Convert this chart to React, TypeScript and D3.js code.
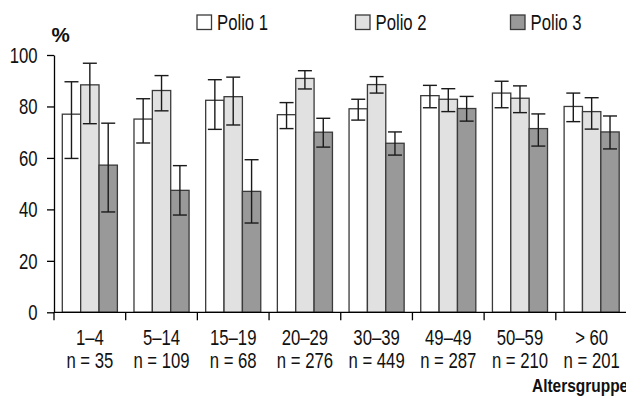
import { useEffect, useRef } from "react";
import * as d3 from "d3";

const ageGroups = ["1–4", "5–14", "15–19", "20–29", "30–39", "49–49", "50–59", "> 60"];
const sampleSizes = ["n = 35", "n = 109", "n = 68", "n = 276", "n = 449", "n = 287", "n = 210", "n = 201"];
const seriesNames = ["Polio 1", "Polio 2", "Polio 3"];
const seriesColors = ["#ffffff", "#e1e1e1", "#999999"];

// mean, lower CI, upper CI per age group
const polio1 = [77.0, 75.1, 82.4, 76.8, 79.1, 84.2, 85.2, 80.0];
const polio1Lo = [59.8, 65.8, 71.1, 71.4, 74.7, 79.5, 79.5, 74.1];
const polio1Hi = [89.6, 83.0, 90.4, 81.5, 82.8, 88.2, 89.8, 85.2];

const polio2 = [88.4, 86.2, 83.8, 90.9, 88.5, 82.8, 83.2, 78.0];
const polio2Lo = [73.3, 78.3, 72.8, 86.8, 85.2, 78.0, 77.6, 71.2];
const polio2Hi = [96.8, 92.0, 91.4, 93.9, 91.6, 86.9, 88.0, 83.4];

const polio3 = [57.2, 47.4, 47.0, 70.0, 65.7, 79.2, 71.4, 70.1];
const polio3Lo = [39.0, 37.8, 34.7, 64.2, 61.1, 74.3, 64.6, 63.5];
const polio3Hi = [73.5, 57.0, 59.3, 75.4, 70.1, 83.9, 77.1, 76.3];

const yTicks = [0, 20, 40, 60, 80, 100];

// no narrow font installed -> squeeze Liberation Sans horizontally
const FONT = "'Liberation Sans', Arial, sans-serif";

export default function App() {
  const ref = useRef<SVGSVGElement>(null);

  useEffect(() => {
    const width = 626;
    const svg = d3.select(ref.current);
    svg.selectAll("*").remove();

    const addText = (
      parent: any, x: number, y: number, txt: string,
      anchor = "start", size = 22, weight = "normal", squeeze = 0.76
    ) =>
      parent.append("text")
        .attr("transform", `translate(${x},${y}) scale(${squeeze},1)`)
        .attr("text-anchor", anchor)
        .style("font-family", FONT)
        .style("font-size", `${size}px`)
        .style("font-weight", weight)
        .attr("fill", "#111")
        .text(txt);

    const values = [polio1, polio2, polio3];
    const lows = [polio1Lo, polio2Lo, polio3Lo];
    const highs = [polio1Hi, polio2Hi, polio3Hi];

    const data = ageGroups.flatMap((g, i) =>
      seriesNames.map((s, j) => ({
        group: g,
        series: s,
        si: j,
        value: values[j][i],
        lo: lows[j][i],
        hi: highs[j][i],
      }))
    );

    // Scales
    const x0 = d3.scaleBand().domain(ageGroups).range([54, 627.5]).paddingInner(0).paddingOuter(0);
    const x1 = d3.scaleBand().domain(seriesNames).range([8.3, x0.bandwidth() - 8.3]).padding(0);
    const y = d3.scaleLinear().domain([0, 100]).range([312.3, 55]);

    // Bars
    svg.append("g")
      .selectAll("rect")
      .data(data)
      .join("rect")
      .attr("x", d => x0(d.group)! + x1(d.series)!)
      .attr("y", d => y(d.value))
      .attr("width", x1.bandwidth())
      .attr("height", d => y(0) - y(d.value))
      .attr("fill", d => seriesColors[d.si])
      .attr("stroke", "#3a3a3a")
      .attr("stroke-width", 1.3);

    // Error bars
    const cap = 7;
    const eb = svg.append("g").attr("stroke", "#1a1a1a").attr("stroke-width", 1.4);
    data.forEach(d => {
      const cx = x0(d.group)! + x1(d.series)! + x1.bandwidth() / 2;
      eb.append("line").attr("x1", cx).attr("x2", cx).attr("y1", y(d.hi)).attr("y2", y(d.lo));
      eb.append("line").attr("x1", cx - cap).attr("x2", cx + cap).attr("y1", y(d.hi)).attr("y2", y(d.hi));
      eb.append("line").attr("x1", cx - cap).attr("x2", cx + cap).attr("y1", y(d.lo)).attr("y2", y(d.lo));
    });

    // Y axis
    const yAxis = svg.append("g")
      .attr("transform", "translate(54,0)")
      .call(d3.axisLeft(y).tickValues(yTicks).tickSize(7).tickSizeOuter(0).tickFormat(() => ""));
    yAxis.select(".domain").attr("stroke", "#000").attr("stroke-width", 1.3);
    yAxis.selectAll(".tick line").attr("stroke", "#000").attr("stroke-width", 1.3);
    const yLabels = svg.append("g");
    yTicks.forEach(t => addText(yLabels, 37.5, y(t) + 8, String(t), "end"));

    // X axis line + boundary ticks
    svg.append("line")
      .attr("x1", 54).attr("x2", width)
      .attr("y1", y(0)).attr("y2", y(0))
      .attr("stroke", "#000").attr("stroke-width", 1.3);
    svg.append("g")
      .selectAll("line")
      .data(ageGroups)
      .join("line")
      .attr("x1", d => x0(d)!).attr("x2", d => x0(d)!)
      .attr("y1", y(0)).attr("y2", y(0) + 8)
      .attr("stroke", "#000").attr("stroke-width", 1.3);

    // Category labels
    const labels = svg.append("g");
    ageGroups.forEach((g, i) => {
      const cx = x0(g)! + x0.bandwidth() / 2;
      addText(labels, cx, 345, g, "middle");
      addText(labels, cx, 368, sampleSizes[i], "middle");
    });

    // Axis titles
    addText(svg, 51.5, 42, "%", "start", 21, "bold", 0.98);
    addText(svg, 532, 391.5, "Altersgruppe", "start", 18, "bold", 0.86);

    // Legend
    const legendX = [197, 355.5, 510.5];
    const legend = svg.append("g");
    seriesNames.forEach((s, i) => {
      legend.append("rect")
        .attr("x", legendX[i]).attr("y", 15)
        .attr("width", 14.5).attr("height", 14.5)
        .attr("fill", seriesColors[i])
        .attr("stroke", "#3a3a3a")
        .attr("stroke-width", 1.3);
      addText(legend, legendX[i] + 20, 29.5, s);
    });
  }, []);

  return (
    <svg
      ref={ref}
      width={626}
      height={396}
      style={{ position: "absolute", left: 0, top: 0, background: "#fff" }}
    />
  );
}
